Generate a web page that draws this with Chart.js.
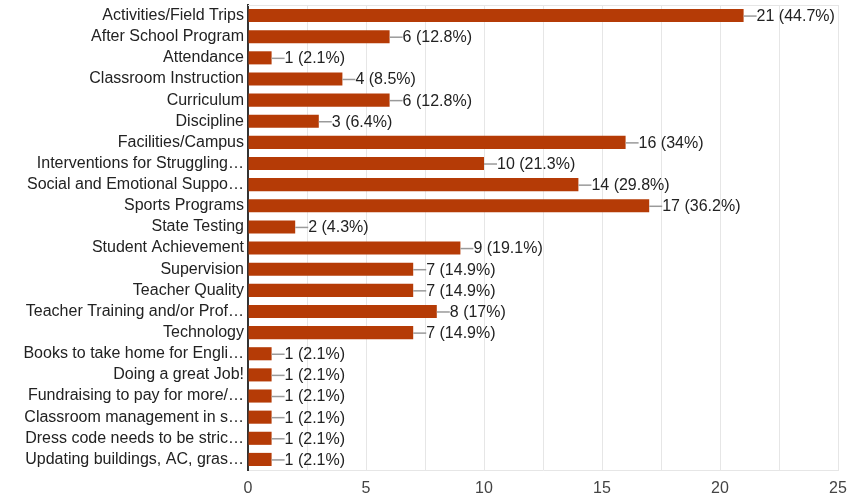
<!DOCTYPE html>
<html>
<head>
<meta charset="utf-8">
<script src="https://cdn.jsdelivr.net/npm/chart.js@4.4.1/dist/chart.umd.min.js"></script>
<style>
  html, body { margin: 0; padding: 0; background: #fff; }
  #wrap { width: 859px; height: 497px; }
</style>
</head>
<body>
<div id="wrap"><canvas id="chart"></canvas></div>
<script>
// responses per topic
const categories = [
  'Activities/Field Trips',
  'After School Program',
  'Attendance',
  'Classroom Instruction',
  'Curriculum',
  'Discipline',
  'Facilities/Campus',
  'Interventions for Struggling\u2026',
  'Social and Emotional Suppo\u2026',
  'Sports Programs',
  'State Testing',
  'Student Achievement',
  'Supervision',
  'Teacher Quality',
  'Teacher Training and/or Prof\u2026',
  'Technology',
  'Books to take home for Engli\u2026',
  'Doing a great Job!',
  'Fundraising to pay for more/\u2026',
  'Classroom management in s\u2026',
  'Dress code needs to be stric\u2026',
  'Updating buildings, AC, gras\u2026'
];
const counts = [21, 6, 1, 4, 6, 3, 16, 10, 14, 17, 2, 9, 7, 7, 8, 7, 1, 1, 1, 1, 1, 1];
const percents = [44.7, 12.8, 2.1, 8.5, 12.8, 6.4, 34, 21.3, 29.8, 36.2, 4.3, 19.1, 14.9, 14.9, 17, 14.9, 2.1, 2.1, 2.1, 2.1, 2.1, 2.1];
const xTicks = [0, 5, 10, 15, 20, 25];

const FONT = 'Arial, "Liberation Sans", sans-serif';

// leader line + "n (p%)" after each bar, plus the frame line along the top
const valueLabels = {
  id: 'valueLabels',
  afterDatasetsDraw(chart) {
    const ctx = chart.ctx;
    const area = chart.chartArea;
    ctx.save();
    ctx.strokeStyle = '#e6e6e6';
    ctx.lineWidth = 1;
    ctx.beginPath();
    ctx.moveTo(area.left, area.top + 0.5);
    ctx.lineTo(area.right, area.top + 0.5);
    ctx.stroke();

    const meta = chart.getDatasetMeta(0);
    ctx.font = '16px ' + FONT;
    ctx.textBaseline = 'middle';
    ctx.textAlign = 'left';
    meta.data.forEach((bar, i) => {
      const x = bar.x;
      const y = bar.y;
      ctx.strokeStyle = '#9a9a9a';
      ctx.lineWidth = 1.5;
      ctx.beginPath();
      ctx.moveTo(x, y + 0.5);
      ctx.lineTo(x + 13, y + 0.5);
      ctx.stroke();
      ctx.fillStyle = '#222222';
      ctx.fillText(counts[i] + ' (' + percents[i] + '%)', x + 13, y + 1);
    });
    ctx.restore();
  }
};

new Chart(document.getElementById('chart'), {
  type: 'bar',
  data: {
    labels: categories,
    datasets: [{
      data: counts,
      backgroundColor: '#b53b06',
      borderWidth: 0,
      barPercentage: 0.62,
      categoryPercentage: 1
    }]
  },
  options: {
    indexAxis: 'y',
    responsive: true,
    maintainAspectRatio: false,
    animation: false,
    layout: { padding: { top: 5, right: 21, left: 0, bottom: 0 } },
    plugins: {
      legend: { display: false },
      tooltip: { enabled: false }
    },
    scales: {
      x: {
        min: 0,
        max: 25,
        afterBuildTicks(axis) {
          const t = [];
          for (let v = 0; v <= 25; v += 2.5) t.push({ value: v });
          axis.ticks = t;
        },
        afterFit(axis) {
          axis.height = 27;
          axis.paddingLeft = 0;
          axis.paddingRight = 0;
        },
        ticks: {
          autoSkip: false,
          maxRotation: 0,
          color: '#444444',
          font: { family: FONT, size: 16 },
          padding: 9,
          callback: v => (xTicks.includes(v) ? String(v) : '')
        },
        grid: { color: '#e6e6e6', drawTicks: false },
        border: { color: '#e6e6e6', width: 1 }
      },
      y: {
        afterFit(axis) {
          axis.width = 248;
          axis.paddingTop = 0;
          axis.paddingBottom = 0;
        },
        ticks: {
          autoSkip: false,
          color: '#222222',
          font: { family: FONT, size: 16 },
          padding: 4
        },
        grid: { display: false, drawTicks: false },
        border: { color: '#333333', width: 2 }
      }
    }
  },
  plugins: [valueLabels]
});
</script>
</body>
</html>
